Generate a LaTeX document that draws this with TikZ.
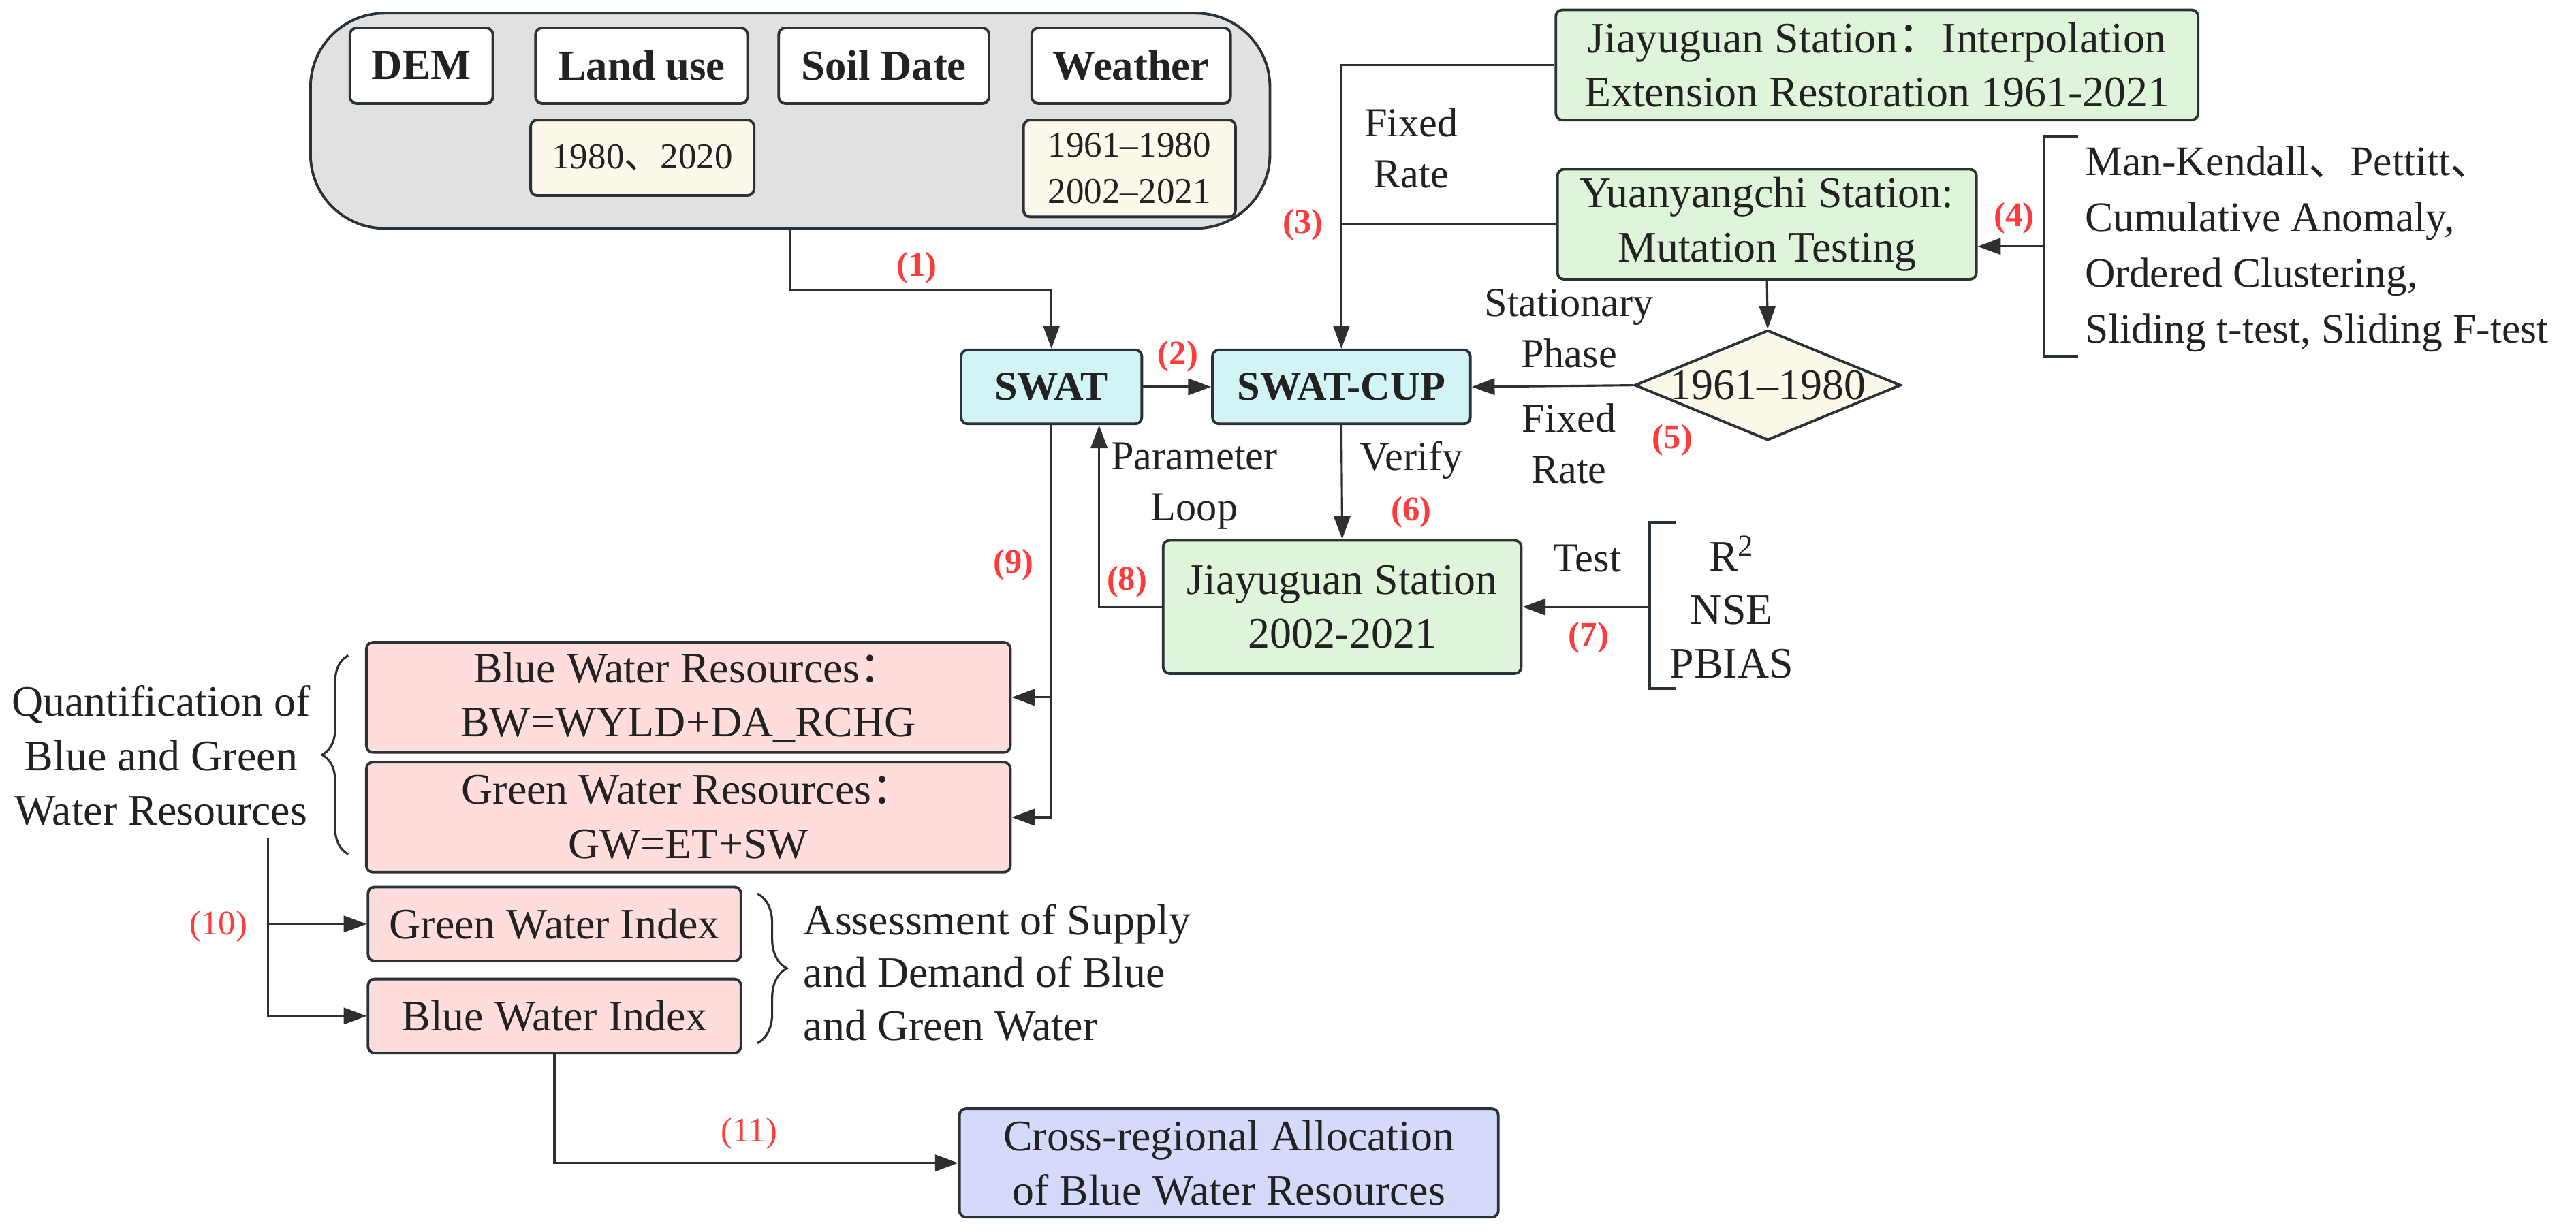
\documentclass[tikz,border=0pt]{standalone}
\usepackage{fontspec}
\setmainfont{Liberation Serif}
\newfontfamily\cjk{Noto Sans CJK SC}
\usetikzlibrary{arrows.meta,shapes.geometric,decorations.pathreplacing,calc}
\definecolor{edge}{HTML}{2A3237}
\definecolor{lineC}{HTML}{2F2F2F}
\definecolor{textC}{HTML}{222222}
\definecolor{grayfill}{HTML}{E1E1E1}
\definecolor{cream}{HTML}{FCF8EA}
\definecolor{cyanfill}{HTML}{D2F4F5}
\definecolor{greenfill}{HTML}{DFF5DA}
\definecolor{pinkfill}{HTML}{FFDDDD}
\definecolor{lavfill}{HTML}{D5D9FA}
\definecolor{redlab}{HTML}{FF3C3C}
\begin{document}
\begin{tikzpicture}[x=1pt,y=-1pt, text=textC,
  box/.style={draw=edge, line width=1.6pt, rounded corners=4pt, inner sep=0pt, align=center,
              font=\fontsize{26.5}{33}\selectfont},
  inbox/.style={box, fill=white, font=\bfseries\fontsize{26}{30}\selectfont, minimum height=46pt},
  yearbox/.style={box, fill=cream, font=\fontsize{22}{28}\selectfont},
  cyanbox/.style={box, fill=cyanfill, font=\bfseries\fontsize{25}{30}\selectfont, minimum height=45pt},
  greenbox/.style={box, fill=greenfill},
  pinkbox/.style={box, fill=pinkfill},
  lavbox/.style={box, fill=lavfill},
  arr/.style={draw=lineC, line width=1.3pt, -{Triangle[length=14pt,width=10pt]}},
  conn/.style={draw=lineC, line width=1.3pt},
  brk/.style={draw=edge, line width=1.6pt},
  lab/.style={font=\fontsize{25}{31}\selectfont, align=center, inner sep=0pt},
  txt/.style={font=\fontsize{26.5}{33}\selectfont, inner sep=0pt},
  num/.style={text=redlab, font=\bfseries\fontsize{21}{24}\selectfont, inner sep=0pt},
  numr/.style={text=redlab, font=\fontsize{21}{24}\selectfont, inner sep=0pt}
]
\fill[white] (0,0) rectangle (1568,750);
\useasboundingbox (0,0) rectangle (1568,750);

% input container
\node[box, fill=grayfill, rounded corners=45pt, minimum width=584pt, minimum height=131pt] (inputs) at (481,73.5) {};
\node[inbox, minimum width=87pt] (dem) at (256.5,40) {DEM};
\node[inbox, minimum width=129pt] (landuse) at (390.5,40) {Land use};
\node[inbox, minimum width=128pt] (soil) at (538,40) {Soil Date};
\node[inbox, minimum width=121pt] (weather) at (688.5,40) {Weather};
\node[yearbox, minimum width=136pt, minimum height=46pt] (luyears) at (391,96) {1980{\cjk 、}2020};
\node[yearbox, minimum width=129pt, minimum height=59pt] (wyears) at (687.5,102.5) {1961\textendash1980\\2002\textendash2021};

% models
\node[cyanbox, minimum width=110pt] (swat) at (640,235.5) {SWAT};
\node[cyanbox, minimum width=157pt] (swatcup) at (816.5,235.5) {SWAT-CUP};

% stations
\node[greenbox, minimum width=391pt, minimum height=67pt] (jia1) at (1142.5,39.5)
  {Jiayuguan Station{\cjk ：}Interpolation\\Extension Restoration 1961-2021};
\node[greenbox, minimum width=255pt, minimum height=67pt] (yuan) at (1075.5,136.5)
  {Yuanyangchi Station:\\Mutation Testing};
\node[draw=edge, line width=1.6pt, fill=cream, shape=diamond, minimum width=162pt, minimum height=67pt, inner sep=0pt] (dia) at (1076,234.5) {};
\node[txt] (diatext) at (dia.center) {1961\textendash1980};
\node[greenbox, minimum width=218pt, minimum height=81pt] (jia2) at (817,369.5)
  {Jiayuguan Station\\2002-2021};

% method list and bracket
\node[txt, align=left, anchor=west, font=\fontsize{25.5}{34}\selectfont] (methods) at (1269,151.5)
  {Man-Kendall{\cjk 、}Pettitt{\cjk 、}\\Cumulative Anomaly,\\Ordered Clustering,\\Sliding t-test, Sliding F-test};
\draw[brk] (1265,83) -- (1244,83) -- (1244,217) -- (1265,217);
\coordinate (brk1) at (1244,150);

\node[txt, align=center, font=\fontsize{26.5}{32.5}\selectfont] (crit) at (1054,369.5) {R\textsuperscript{2}\\NSE\\PBIAS};
\draw[brk] (1020,318) -- (1004,318) -- (1004,419) -- (1020,419);
\coordinate (brk2) at (1004,369.5);

% outputs
\node[pinkbox, minimum width=392pt, minimum height=67pt] (bwr) at (419,424.5)
  {Blue Water Resources{\cjk ：}\\BW=WYLD+DA\_RCHG};
\node[pinkbox, minimum width=392pt, minimum height=67pt] (gwr) at (419,497.5)
  {Green Water Resources{\cjk ：}\\GW=ET+SW};
\node[pinkbox, minimum width=227pt, minimum height=45pt] (gwi) at (337.5,562.5) {Green Water Index};
\node[pinkbox, minimum width=227pt, minimum height=45pt] (bwi) at (337.5,618.5) {Blue Water Index};
\node[lavbox, minimum width=328pt, minimum height=66pt] (cross) at (748,708)
  {Cross-regional Allocation\\of Blue Water Resources};

\node[txt, align=center] (quant) at (98,460) {Quantification of\\Blue and Green\\Water Resources};
\draw[conn, line width=1.3pt, decorate, decoration={brace, amplitude=16pt}] (212,520) -- (212,399);
\node[txt, align=left, anchor=west, font=\fontsize{26.5}{32}\selectfont] (assess) at (489,592)
  {Assessment of Supply\\and Demand of Blue\\and Green Water};
\draw[conn, line width=1.3pt, decorate, decoration={brace, amplitude=18pt}] (461,544) -- (461,635);
\coordinate (q10) at (163,510);
\coordinate (loopx) at (669,0);

% connectors
\draw[arr] (inputs.south) -- ++(0,37) -| (swat.north);
\draw[arr] (swat.east) -- (swatcup.west);
\draw[arr] (jia1.west) -| (swatcup.north);
\draw[conn] (yuan.west) -- (yuan.west -| swatcup.north);
\draw[arr] (brk1) -- (brk1 -| yuan.east);
\draw[arr] (yuan.south) -- (dia.north);
\draw[arr] (dia.west) -- (swatcup.east);
\draw[arr] (swatcup.south) -- (jia2.north);
\draw[arr] (brk2) -- (jia2.east);
\draw[arr] (jia2.west) -| (loopx |- swat.south);
\draw[arr] (swat.south) |- (gwr.east);
\draw[arr] (swat.south |- bwr.east) -- (bwr.east);
\draw[arr] (q10) |- (bwi.west);
\draw[arr] (q10 |- gwi.west) -- (gwi.west);
\draw[arr] (bwi.south) |- (cross.west);

% edge labels
\node[lab] (fr1) at (859,90) {Fixed\\Rate};
\node[lab] (sp) at (955,200) {Stationary\\Phase};
\node[lab] (fr2) at (955,270) {Fixed\\Rate};
\node[lab] (ver) at (859,280) {Verify};
\node[lab] (pl) at (727,296) {Parameter\\Loop};
\node[lab] (test) at (966,340) {Test};

\node[num] (n1) at (558,163) {(1)};
\node[num] (n2) at (717,217) {(2)};
\node[num] (n3) at (793,137) {(3)};
\node[num] (n4) at (1226,133) {(4)};
\node[num] (n5) at (1018,268) {(5)};
\node[num] (n6) at (859,312) {(6)};
\node[num] (n7) at (967,388) {(7)};
\node[num] (n8) at (686,354) {(8)};
\node[num] (n9) at (617,344) {(9)};
\node[numr] (n10) at (133,564) {(10)};
\node[numr] (n11) at (456,690) {(11)};
\end{tikzpicture}
\end{document}
